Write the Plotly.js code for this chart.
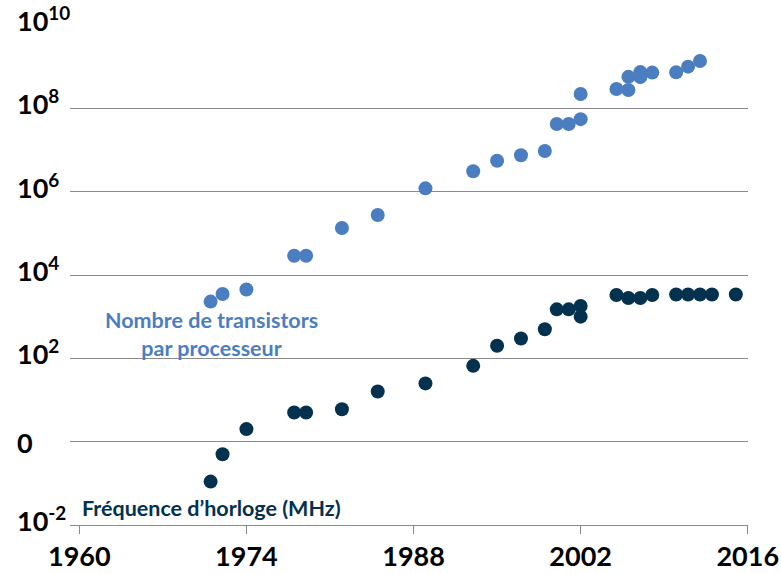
<!DOCTYPE html>
<html>
<head>
<meta charset="utf-8">
<script src="https://cdn.plot.ly/plotly-3.0.1.min.js"></script>
<style>html,body{margin:0;padding:0;background:#fff;}#chart{width:781px;height:574px;}</style>
</head>
<body>
<div id="chart"></div>
<script>
// ---- data ----
const transistorYears = [1971, 1972, 1974, 1978, 1979, 1982, 1985, 1989, 1993, 1995, 1997, 1999,
  2000, 2001, 2002, 2002, 2005, 2006, 2006, 2007, 2007, 2008, 2010, 2011, 2012];
const transistorCounts = [2300, 3500, 4500, 29000, 29000, 134000, 275000, 1200000, 3100000, 5500000,
  7500000, 9500000, 42000000, 42000000, 55000000, 220000000, 290000000, 275000000, 570000000,
  740000000, 560000000, 720000000, 730000000, 1000000000, 1370000000];

const clockYears = [1971, 1972, 1974, 1978, 1979, 1982, 1985, 1989, 1993, 1995, 1997, 1999,
  2000, 2001, 2002, 2002, 2005, 2006, 2007, 2008, 2010, 2011, 2012, 2013, 2015];
const clockMHz = [0.11, 0.5, 2, 5, 5, 6, 16, 25, 66, 200, 300, 500,
  1500, 1500, 1800, 1000, 3300, 2800, 2800, 3300, 3400, 3400, 3400, 3400, 3400];

const xTickVals = [1960, 1974, 1988, 2002, 2016];
const xTickText = ['1960', '1974', '1988', '2002', '2016'];
const yTickVals = [0.01, 1, 100, 1e4, 1e6, 1e8, 1e10];
const yTickText = ['10<sup>-2</sup>', '0', '10<sup>2</sup>', '10<sup>4</sup>', '10<sup>6</sup>', '10<sup>8</sup>', '10<sup>10</sup>'];

const transistorLabel = 'Nombre de transistors<br>par processeur';
const clockLabel = 'Fréquence d’horloge (MHz)';

// ---- styles ----
const blue = '#4A7EC0';
const navy = '#03314E';
const gridGrey = '#8a8a8a';
const labelFont = {family: 'Lato, "Open Sans", sans-serif', size: 27, color: '#000', weight: 'bold'};

const traces = [
  {x: transistorYears, y: transistorCounts, type: 'scatter', mode: 'markers',
   marker: {size: 14, color: blue}, hoverinfo: 'x+y'},
  {x: clockYears, y: clockMHz, type: 'scatter', mode: 'markers',
   marker: {size: 14, color: navy}, hoverinfo: 'x+y'}
];

const annotations = yTickVals.map((v, i) => ({
  xref: 'paper', yref: 'y', x: -0.081, y: Math.log10(v),
  xanchor: 'left', yanchor: 'middle', showarrow: false,
  text: yTickText[i], font: labelFont, yshift: yTickText[i].indexOf('sup') >= 0 ? 6 : -1
}));
annotations.push({
  xref: 'x', yref: 'y', x: 1971.1, y: 2.58,
  xanchor: 'center', yanchor: 'middle', showarrow: false,
  text: transistorLabel, align: 'center',
  font: {family: 'Lato, "Open Sans", sans-serif', size: 21.5, color: blue, weight: 'bold'}
});
annotations.push({
  xref: 'x', yref: 'y', x: 1971.1, y: -1.58,
  xanchor: 'center', yanchor: 'middle', showarrow: false,
  text: clockLabel,
  font: {family: 'Lato, "Open Sans", sans-serif', size: 21.5, color: navy, weight: 'bold'}
});

const layout = {
  width: 781, height: 574,
  margin: {l: 70, r: 33, t: 25, b: 49},
  paper_bgcolor: '#fff', plot_bgcolor: '#fff',
  showlegend: false,
  xaxis: {
    range: [1959.22, 2016.02], tickvals: xTickVals, ticktext: xTickText,
    showgrid: false, zeroline: false, showline: true, linecolor: gridGrey, linewidth: 1,
    ticks: 'outside', ticklen: 8, tickwidth: 1, tickcolor: gridGrey,
    tickfont: labelFont
  },
  yaxis: {
    type: 'log', range: [-2, 10], tickvals: yTickVals,
    showgrid: true, gridcolor: gridGrey, gridwidth: 1,
    zeroline: false, showline: false, showticklabels: false, ticks: ''
  },
  shapes: [
    {type: 'rect', xref: 'x', yref: 'paper', x0: 1989.2, x1: 2015.9, y0: 0.662, y1: 0.671,
     fillcolor: '#fff', line: {width: 0}, layer: 'between'}
  ],
  annotations: annotations
};

Plotly.newPlot('chart', traces, layout, {displayModeBar: false, staticPlot: true});
</script>
</body>
</html>
